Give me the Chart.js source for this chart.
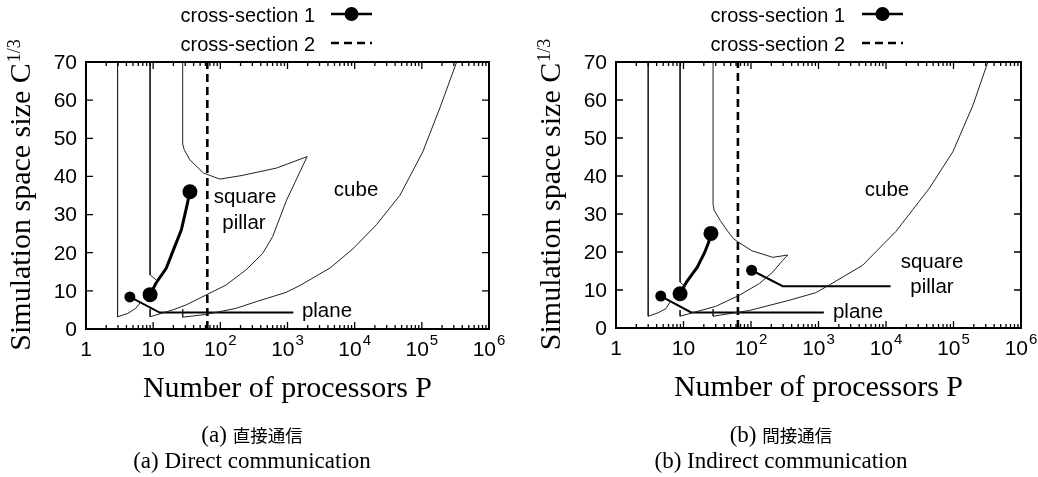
<!DOCTYPE html>
<html>
<head>
<meta charset="utf-8">
<script src="https://cdn.jsdelivr.net/npm/chart.js@4.4.0/dist/chart.umd.min.js"></script>
<style>
body {margin: 0; background: #fff;}
#wrap {position: relative; width: 1038px; height: 477px; overflow: hidden; background: #fff;}
canvas {position: absolute; top: 0;}
.cap {position: absolute; white-space: nowrap; transform: translateX(-50%); color: #000; line-height: 24px;}
.serif {font-family: "Liberation Serif", "Times New Roman", serif; font-size: 23px;}
.cjk {font-family: "Noto Sans CJK JP", sans-serif; font-size: 17.5px;}
</style>
</head>
<body>
<div id="wrap">
	<canvas id="direct_chart" width="519" height="477" style="left:0px"></canvas>
	<canvas id="indirect_chart" width="519" height="477" style="left:519px"></canvas>
	<div class="cap" style="left:252px; top:423px;"><span class="serif">(a) </span><span class="cjk">直接通信</span></div>
	<div class="cap serif" style="left:252px; top:449px;">(a) Direct communication</div>
	<div class="cap" style="left:781px; top:423px;"><span class="serif">(b) </span><span class="cjk">間接通信</span></div>
	<div class="cap serif" style="left:781px; top:449px;">(b) Indirect communication</div>
</div>
<script>
// axes
const xTickValues = [1, 10, 100, 1000, 10000, 100000, 1000000];
const xTickBase = ['1', '10', '10', '10', '10', '10', '10'];
const xTickPower = ['', '', '2', '3', '4', '5', '6'];
const yTickValues = [0, 10, 20, 30, 40, 50, 60, 70];
const crossSection2P = 64;

// (a) direct communication
const directEdge1P = [2.95, 2.95, 4.2, 5.5, 6.6];
const directEdge1C = [70, 3.2, 4.1, 5.4, 7.2];
const directEdge2P = [9, 9, 11.2];
const directEdge2C = [70, 14.2, 12.8];
const directPillarP = [9, 9, 19.5, 30.8, 61, 121, 241, 427, 600, 970, 1960, 690, 203, 98, 56, 35, 29, 27.5, 27.5];
const directPillarC = [5.2, 3.2, 5.0, 6.3, 8.9, 11.5, 15.5, 19.8, 24.2, 33.8, 45.2, 42.2, 40.2, 39.3, 40.9, 44.4, 47, 48.5, 70];
const directCubeP = [27.5, 27.5, 60, 170, 347, 950, 1530, 4300, 9400, 21000, 47000, 103000, 186000, 330000];
const directCubeC = [5.2, 3.1, 3.8, 5.4, 7.2, 9.6, 11.4, 16, 21, 27.3, 35, 46.4, 58, 70];
const directSection1P = [9, 11, 15.7, 20.3, 26.3, 31.5, 35.3];
const directSection1C = [9, 12, 16, 21, 26, 32, 36];
const directPlaneLeaderP = [4.5, 12.5, 1220];
const directPlaneLeaderC = [8.4, 4.3, 4.3];

// (b) indirect communication
const indirectEdge1P = [3, 3, 4.2, 5.5, 6.4];
const indirectEdge1C = [70, 3.1, 4.0, 5.1, 7.0];
const indirectEdge2P = [8.9, 8.9, 10.5];
const indirectEdge2C = [70, 12.1, 10.9];
const indirectPillarP = [8.9, 8.9, 30, 67, 133, 210, 295, 350, 210, 104, 66, 55, 45, 35, 28.5, 27.4, 27.4];
const indirectPillarC = [4.7, 3.1, 5.7, 8.6, 11.7, 14.7, 17.8, 19.2, 18.6, 20.3, 22.5, 23.5, 25.5, 28.3, 31, 32.5, 70];
const indirectCubeP = [27.5, 27.5, 94, 370, 910, 1440, 4500, 14000, 44000, 98000, 195000, 323000];
const indirectCubeC = [4.9, 3.1, 4.6, 7.3, 9.3, 11.3, 16.5, 25.4, 36.8, 46.4, 58.7, 70];
const indirectSection1P = [8.9, 11, 16, 20.5, 23.5, 25.5];
const indirectSection1C = [9, 12, 16, 19.8, 22.5, 24.9];
const indirectPlaneLeaderP = [4.6, 13, 1200];
const indirectPlaneLeaderC = [8.4, 4.1, 4.1];
const indirectPillarLeaderP = [102, 295, 11700];
const indirectPillarLeaderC = [15.2, 11, 11];

const directLabels = [
	{text: 'cube', p: 10500, c: 36.4},
	{text: 'square', p: 233, c: 34.6},
	{text: 'pillar', p: 225, c: 27.8},
	{text: 'plane', p: 3870, c: 4.5},
];
const indirectLabels = [
	{text: 'cube', p: 10350, c: 36.3},
	{text: 'square', p: 48000, c: 17.3},
	{text: 'pillar', p: 48000, c: 10.7},
	{text: 'plane', p: 3850, c: 4.2},
];

const SANS = '"Liberation Sans", Arial, sans-serif';
const SERIF = '"Liberation Serif", "Times New Roman", serif';

function pts(px, cy) {
	return px.map((p, i) => ({x: p, y: cy[i]}));
}

function thin(px, cy) {
	return {data: pts(px, cy), borderColor: '#222', borderWidth: 1, pointRadius: 0, showLine: true, fill: false};
}

function thick(px, cy, width, radius) {
	const r = px.map((p, i) => (i == 0 || i == px.length - 1) ? radius : 0);
	return {data: pts(px, cy), borderColor: '#000', backgroundColor: '#000', borderWidth: width,
		pointRadius: r, pointBorderWidth: 0, showLine: true, fill: false};
}

function leader(px, cy) {
	const r = px.map((p, i) => i == 0 ? 5.5 : 0);
	return {data: pts(px, cy), borderColor: '#000', backgroundColor: '#000', borderWidth: 2,
		pointRadius: r, pointBorderWidth: 0, showLine: true, fill: false};
}

function dashed() {
	return {data: pts([crossSection2P, crossSection2P], [0, 70]), borderColor: '#000', borderWidth: 2.6,
		borderDash: [8, 5], pointRadius: 0, showLine: true, fill: false};
}

const framePlugin = {
	id: 'frame',
	afterDraw(chart, args, opts) {
		const ctx = chart.ctx;
		const xs = chart.scales.x, ys = chart.scales.y;
		const {left, right, top, bottom} = chart.chartArea;
		ctx.save();
		ctx.strokeStyle = '#000';
		ctx.fillStyle = '#000';

		// ticks (inside, mirrored)
		ctx.lineWidth = 1.3;
		ctx.beginPath();
		for (let k = 0; k < 6; k++) {
			for (let m = 2; m < 10; m++) {
				const x = xs.getPixelForValue(m * Math.pow(10, k));
				ctx.moveTo(x, bottom); ctx.lineTo(x, bottom - 4);
				ctx.moveTo(x, top); ctx.lineTo(x, top + 4);
			}
		}
		xTickValues.forEach(v => {
			const x = xs.getPixelForValue(v);
			ctx.moveTo(x, bottom); ctx.lineTo(x, bottom - 7);
			ctx.moveTo(x, top); ctx.lineTo(x, top + 7);
		});
		yTickValues.forEach(v => {
			const y = ys.getPixelForValue(v);
			ctx.moveTo(left, y); ctx.lineTo(left + 7, y);
			ctx.moveTo(right, y); ctx.lineTo(right - 7, y);
		});
		ctx.stroke();

		// frame
		ctx.lineWidth = 2;
		ctx.strokeRect(left, top, right - left, bottom - top);

		// tick labels
		ctx.textBaseline = 'middle';
		xTickValues.forEach((v, i) => {
			const x = xs.getPixelForValue(v);
			ctx.font = '21px ' + SANS;
			const wb = ctx.measureText(xTickBase[i]).width;
			ctx.font = '15px ' + SANS;
			const wp = xTickPower[i] ? ctx.measureText(xTickPower[i]).width + 1 : 0;
			const x0 = x - (wb + wp) / 2;
			ctx.textAlign = 'left';
			ctx.font = '21px ' + SANS;
			ctx.fillText(xTickBase[i], x0, bottom + 21);
			if (xTickPower[i]) {
				ctx.font = '15px ' + SANS;
				ctx.fillText(xTickPower[i], x0 + wb + 1, bottom + 12);
			}
		});
		ctx.font = '21px ' + SANS;
		ctx.textAlign = 'right';
		yTickValues.forEach(v => {
			ctx.fillText(String(v), left - 9, ys.getPixelForValue(v) + 1);
		});

		// region labels
		ctx.font = '20.5px ' + SANS;
		ctx.textAlign = 'center';
		opts.labels.forEach(l => {
			ctx.fillText(l.text, xs.getPixelForValue(l.p), ys.getPixelForValue(l.c));
		});

		// axis titles
		ctx.font = '30px ' + SERIF;
		ctx.textAlign = 'center';
		ctx.textBaseline = 'alphabetic';
		ctx.fillText('Number of processors P', (left + right) / 2, bottom + 68);

		ctx.save();
		ctx.translate(left - 56.5, (top + bottom) / 2);
		ctx.rotate(-Math.PI / 2);
		const mainText = 'Simulation space size C';
		ctx.font = '30px ' + SERIF;
		const wm = ctx.measureText(mainText).width;
		ctx.font = '18px ' + SERIF;
		const ws = ctx.measureText('1/3').width;
		ctx.textAlign = 'left';
		ctx.font = '30px ' + SERIF;
		ctx.fillText(mainText, -(wm + ws) / 2, 0);
		ctx.font = '18px ' + SERIF;
		ctx.fillText('1/3', -(wm + ws) / 2 + wm + 1, -10);
		ctx.restore();

		// legend
		const lg = opts.legend;
		ctx.font = '20px ' + SANS;
		ctx.textAlign = 'right';
		ctx.textBaseline = 'middle';
		ctx.fillText('cross-section 1', lg.textRight, lg.y1 + 2);
		ctx.fillText('cross-section 2', lg.textRight, lg.y2 + 2);
		ctx.lineWidth = 2.6;
		ctx.beginPath();
		ctx.moveTo(lg.lineLeft, lg.y1); ctx.lineTo(lg.lineRight, lg.y1);
		ctx.stroke();
		ctx.beginPath();
		ctx.arc((lg.lineLeft + lg.lineRight) / 2, lg.y1, 7, 0, Math.PI * 2);
		ctx.fill();
		ctx.setLineDash([8, 5]);
		ctx.beginPath();
		ctx.moveTo(lg.lineLeft, lg.y2); ctx.lineTo(lg.lineRight, lg.y2);
		ctx.stroke();
		ctx.restore();
	}
};

function makeChart(id, datasets, padding, labels, legend) {
	const ctx = document.getElementById(id).getContext('2d');
	return new Chart(ctx, {
		type: 'scatter',
		data: {datasets: datasets},
		options: {
			responsive: false,
			animation: false,
			devicePixelRatio: 1,
			events: [],
			layout: {padding: padding},
			scales: {
				x: {type: 'logarithmic', min: 1, max: 1000000, display: false},
				y: {type: 'linear', min: 0, max: 70, display: false}
			},
			plugins: {
				legend: {display: false},
				tooltip: {enabled: false},
				frame: {labels: labels, legend: legend}
			}
		},
		plugins: [framePlugin]
	});
}

makeChart('direct_chart', [
	thin(directEdge1P, directEdge1C),
	thin(directEdge2P, directEdge2C),
	thin(directPillarP, directPillarC),
	thin(directCubeP, directCubeC),
	dashed(),
	leader(directPlaneLeaderP, directPlaneLeaderC),
	thick(directSection1P, directSection1C, 3, 7.5),
], {left: 86, right: 30, top: 62, bottom: 148}, directLabels,
	{textRight: 315, lineLeft: 331, lineRight: 372, y1: 14, y2: 43});

makeChart('indirect_chart', [
	thin(indirectEdge1P, indirectEdge1C),
	thin(indirectEdge2P, indirectEdge2C),
	thin(indirectPillarP, indirectPillarC),
	thin(indirectCubeP, indirectCubeC),
	dashed(),
	leader(indirectPlaneLeaderP, indirectPlaneLeaderC),
	leader(indirectPillarLeaderP, indirectPillarLeaderC),
	thick(indirectSection1P, indirectSection1C, 3, 7.5),
], {left: 97, right: 17, top: 62, bottom: 149}, indirectLabels,
	{textRight: 326, lineLeft: 343, lineRight: 384, y1: 14, y2: 43});
</script>
</body>
</html>
